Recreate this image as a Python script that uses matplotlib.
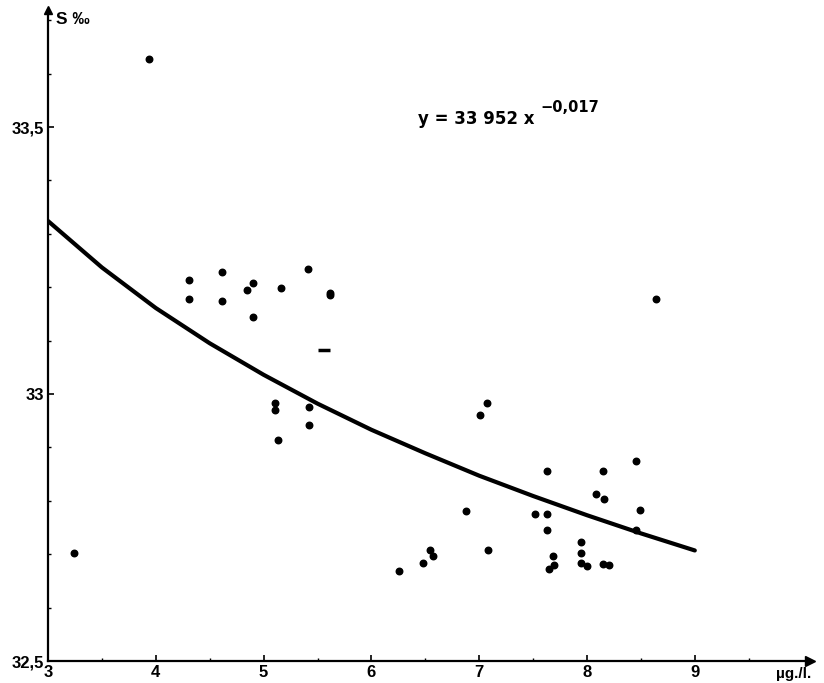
import matplotlib as mpl
mpl.use('Agg')
import matplotlib.pyplot as plt
import numpy as np

plt.rcParams['font.family'] = ['Liberation Sans', 'DejaVu Sans']
plt.rcParams['font.weight'] = 'bold'

# points (chlorophyll ug/l, salinity per mille)
chl = [3.24, 3.94, 4.31, 4.31, 4.61, 4.61, 4.85, 4.90, 4.90, 5.16,
       5.41, 5.62, 5.62, 5.11, 5.11, 5.42, 5.42, 5.13, 6.26, 6.48,
       6.54, 6.57, 6.88, 7.07, 7.01, 7.08, 7.52, 7.63, 7.63, 7.63,
       7.68, 7.69, 7.65, 7.94, 7.94, 7.94, 8.00, 8.15, 8.08, 8.16,
       8.15, 8.20, 8.45, 8.49, 8.45, 8.64]
sal = [32.703, 33.627, 33.213, 33.178, 33.228, 33.174, 33.195, 33.208, 33.144, 33.199,
       33.235, 33.190, 33.185, 32.983, 32.970, 32.976, 32.942, 32.913, 32.668, 32.683,
       32.707, 32.697, 32.781, 32.984, 32.961, 32.708, 32.775, 32.775, 32.856, 32.745,
       32.697, 32.680, 32.672, 32.722, 32.702, 32.684, 32.677, 32.855, 32.812, 32.804,
       32.682, 32.680, 32.875, 32.783, 32.745, 33.177]
# the one dash-shaped mark
dash_x = [5.56]
dash_y = [33.082]

# fitted curve, read at half units
curve_x = [3, 3.5, 4, 4.5, 5, 5.5, 6, 6.5, 7, 7.5, 8, 8.5, 9]
curve_y = [33.324, 33.237, 33.161, 33.095, 33.036, 32.982, 32.933,
           32.889, 32.847, 32.809, 32.773, 32.739, 32.707]

xticks = [3, 4, 5, 6, 7, 8, 9]
yticks = [32.5, 33, 33.5]
ylabels = ['32,5', '33', '33,5']

fig = plt.figure(figsize=(8.24, 6.83), dpi=100)
ax = fig.add_axes([48/824, 22/683, 762/824, 651/683])

ax.plot(curve_x, curve_y, color='black', lw=3.0, solid_capstyle='round')
ax.scatter(chl, sal, s=22, color='black', zorder=3)
ax.plot(dash_x, dash_y, marker='_', ms=8, mew=2.5, color='black', ls='none')

ax.set_xlim(3, 3 + 762/107.8)
ax.set_ylim(32.5, 33.5 + 117/534)

for s in ['top', 'right']:
    ax.spines[s].set_visible(False)
for s in ['left', 'bottom']:
    ax.spines[s].set_linewidth(1.6)

# arrow heads on the axes
ax.plot(1, 0, marker='>', ms=7, color='black', transform=ax.transAxes, clip_on=False)
ax.plot(0, 1, marker='^', ms=6, color='black', transform=ax.transAxes, clip_on=False)

ax.set_xticks(xticks)
ax.set_xticklabels([str(t) for t in xticks])
ax.set_yticks(yticks)
ax.set_yticklabels(ylabels)
ax.set_xticks(np.arange(3.5, 10, 1), minor=True)
ax.set_yticks(np.arange(32.6, 33.7, 0.1), minor=True)
ax.tick_params(which='major', direction='in', length=4, width=1.2, labelsize=12, pad=3)
ax.tick_params(which='minor', direction='in', length=2, width=1)
for lab in ax.get_xticklabels() + ax.get_yticklabels():
    lab.set_fontweight('bold')

fig.text(56/824, 1 - 20/683, 'S ‰', fontsize=12.5, fontweight='bold', va='center')
fig.text(776/824, 1 - 674/683, 'µg./l.', fontsize=11, fontweight='bold', va='center')

fig.text(418/824, 1 - 119/683, 'y = 33 952 x', fontsize=12, fontweight='bold',
         family='DejaVu Sans', va='center')
fig.text(540/824, 1 - 107/683, '\u22120,017', fontsize=10.5, fontweight='bold',
         family='DejaVu Sans', va='center')

fig.savefig('out.png', dpi=100)
